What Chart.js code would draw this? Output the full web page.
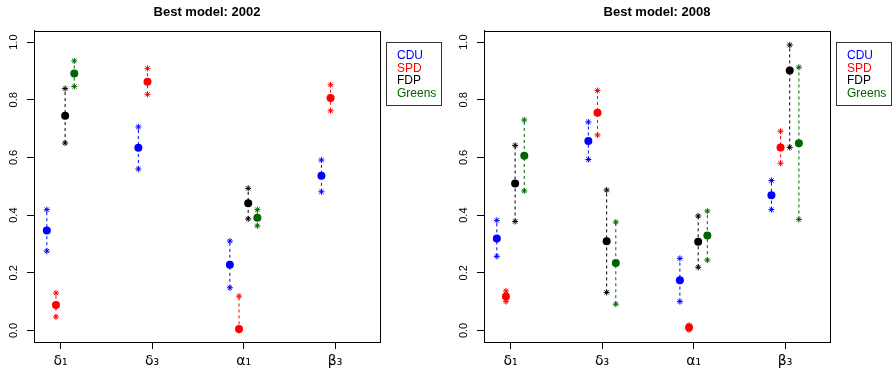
<!DOCTYPE html>
<html>
<head>
<meta charset="utf-8">
<script src="https://cdn.jsdelivr.net/npm/chart.js@4.4.1/dist/chart.umd.min.js"></script>
<style>
  html, body { margin: 0; padding: 0; background: #fff; overflow: hidden; }
  #wrap { position: relative; width: 892px; height: 375px; }
  #c2002 { position: absolute; left: 0; top: 0; }
  #c2008 { position: absolute; left: 450px; top: 0; }
</style>
</head>
<body>
<div id="wrap">
  <canvas id="c2002" width="446" height="375"></canvas>
  <canvas id="c2008" width="442" height="375"></canvas>
</div>
<script>
// parameters on the x axis
const categories = ["δ₁", "δ₃", "α₁", "β₃"];
const parties = ["CDU", "SPD", "FDP", "Greens"];
const yTicks = [0, 0.2, 0.4, 0.6, 0.8, 1.0];

// rows = parties (CDU, SPD, FDP, Greens), columns = categories
const est2002 = [
  [0.347, 0.634, 0.228, 0.537],
  [0.088, 0.863, 0.005, 0.806],
  [0.745, null, 0.441, null],
  [0.891, null, 0.391, null]
];
const lo2002 = [
  [0.275, 0.560, 0.148, 0.481],
  [0.047, 0.819, 0.000, 0.762],
  [0.650, null, 0.387, null],
  [0.846, null, 0.363, null]
];
const hi2002 = [
  [0.419, 0.706, 0.310, 0.591],
  [0.130, 0.909, 0.119, 0.852],
  [0.839, null, 0.493, null],
  [0.935, null, 0.419, null]
];

const est2008 = [
  [0.319, 0.657, 0.174, 0.469],
  [0.118, 0.755, 0.010, 0.635],
  [0.510, 0.309, 0.308, 0.902],
  [0.606, 0.234, 0.329, 0.649]
];
const lo2008 = [
  [0.257, 0.593, 0.100, 0.419],
  [0.100, 0.678, 0.002, 0.580],
  [0.378, 0.132, 0.219, 0.635],
  [0.484, 0.091, 0.244, 0.385]
];
const hi2008 = [
  [0.382, 0.723, 0.250, 0.520],
  [0.137, 0.832, 0.018, 0.691],
  [0.642, 0.487, 0.397, 0.990],
  [0.730, 0.376, 0.414, 0.913]
];

const partyColors = ["#0000ff", "#ff0000", "#000000", "#006400"];
const partyOffset = [-0.15, -0.05, 0.05, 0.15]; // dodge around each category
const FONT = "'Liberation Sans', Arial, sans-serif";

function buildDatasets(est, lo, hi) {
  const sets = [];
  parties.forEach((p, k) => {
    const pts = [];
    const bars = [];
    categories.forEach((c, i) => {
      const x = i + 1 + partyOffset[k];
      if (est[k][i] !== null) pts.push({ x: x, y: est[k][i] });
      if (lo[k][i] !== null) {
        // null point breaks the line between categories
        bars.push({ x: x, y: lo[k][i] }, { x: x, y: hi[k][i] }, { x: x, y: null });
      }
    });
    sets.push({
      label: p, data: pts, showLine: false, order: 0,
      pointStyle: "circle", pointRadius: 4, pointBorderWidth: 0,
      pointBackgroundColor: partyColors[k]
    });
    sets.push({
      label: p + " interval", data: bars, showLine: true, spanGaps: false, order: 1,
      borderColor: partyColors[k], borderWidth: 1, borderDash: [3, 3],
      pointStyle: "star", pointRadius: 3, pointBorderWidth: 1,
      pointBorderColor: partyColors[k], pointBackgroundColor: partyColors[k]
    });
  });
  return sets;
}

// box around the plot + R-style text legend on the right
const framePlugin = {
  id: "frame",
  afterDraw(chart) {
    const ctx = chart.ctx;
    const a = chart.chartArea;
    ctx.save();
    ctx.strokeStyle = "#000";
    ctx.lineWidth = 1;
    ctx.strokeRect(Math.round(a.left) + 0.5, Math.round(a.top) + 0.5,
      Math.round(a.right - a.left), Math.round(a.bottom - a.top));

    const lx = Math.round(a.right) + 6;
    ctx.strokeStyle = "#333";
    ctx.strokeRect(lx + 0.5, 42.5, 55, 63);
    ctx.font = "12px " + FONT;
    ctx.textBaseline = "middle";
    ctx.textAlign = "left";
    parties.forEach((p, k) => {
      ctx.fillStyle = partyColors[k];
      ctx.fillText(p, lx + 11, 55.5 + k * 12.8);
    });
    ctx.restore();
  }
};

function makeChart(id, title, est, lo, hi, padRight) {
  return new Chart(document.getElementById(id), {
    type: "line",
    data: { datasets: buildDatasets(est, lo, hi) },
    options: {
      responsive: false,
      animation: false,
      events: [],
      layout: { padding: { top: 0, right: padRight, bottom: 0, left: 0 } },
      plugins: {
        legend: { display: false },
        tooltip: { enabled: false },
        title: {
          display: true, text: title, fullSize: false, color: "#000",
          font: { family: FONT, size: 13, weight: "bold" },
          padding: { top: 5, bottom: 10 }
        }
      },
      scales: {
        x: {
          type: "linear", min: 0.71, max: 4.49,
          afterBuildTicks: s => { s.ticks = categories.map((c, i) => ({ value: i + 1 })); },
          afterFit: s => { s.height = 33; },
          ticks: {
            autoSkip: false, color: "#000", padding: 4,
            font: { family: "'DejaVu Sans', sans-serif", size: 14 },
            callback: (v, i) => categories[i]
          },
          grid: { drawOnChartArea: false, drawTicks: true, tickLength: 7, color: "#000" },
          border: { display: true, color: "#000" }
        },
        y: {
          min: -0.04, max: 1.04,
          afterBuildTicks: s => { s.ticks = yTicks.map(v => ({ value: v })); },
          afterFit: s => { s.width = 34; },
          ticks: {
            autoSkip: false, color: "#000", padding: 5,
            minRotation: 90, maxRotation: 90, crossAlign: "center",
            font: { family: FONT, size: 11 },
            callback: v => v.toFixed(1)
          },
          grid: { drawOnChartArea: false, drawTicks: true, tickLength: 7, color: "#000" },
          border: { display: true, color: "#000" }
        }
      }
    },
    plugins: [framePlugin]
  });
}

makeChart("c2002", "Best model: 2002", est2002, lo2002, hi2002, 66);
makeChart("c2008", "Best model: 2008", est2008, lo2008, hi2008, 62);
</script>
</body>
</html>
